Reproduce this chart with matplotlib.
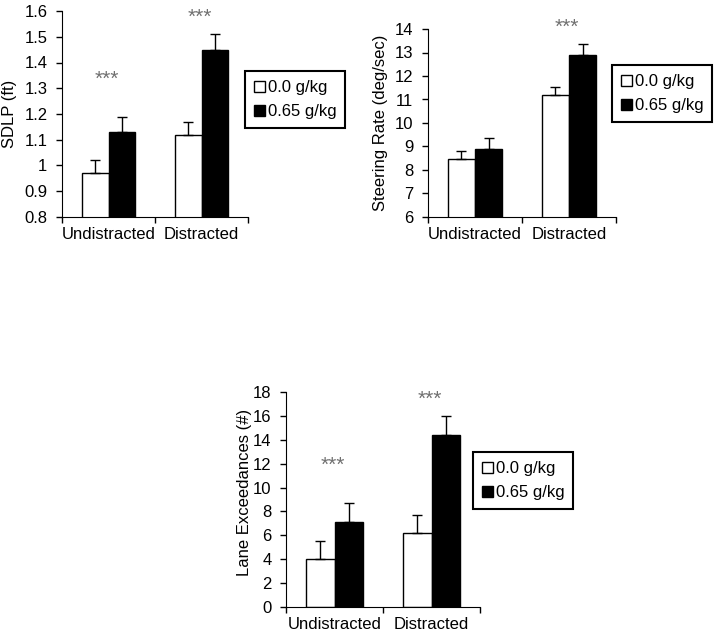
import matplotlib
matplotlib.use("Agg")
import matplotlib.pyplot as plt
import numpy as np

plt.rcParams.update({'font.family': 'Liberation Sans'})
plt.rcParams.update({'font.size': 12})

conditions = ["Undistracted", "Distracted"]
doses = ["0.0 g/kg", "0.65 g/kg"]

sdlp_placebo = [0.97, 1.12]
sdlp_placebo_err = [0.05, 0.05]
sdlp_alcohol = [1.13, 1.45]
sdlp_alcohol_err = [0.06, 0.06]
sdlp_stars = [1.335, 1.575]

steer_placebo = [8.45, 11.2]
steer_placebo_err = [0.35, 0.35]
steer_alcohol = [8.9, 12.9]
steer_alcohol_err = [0.45, 0.45]
steer_stars = [None, 14.05]

lane_placebo = [4.0, 6.2]
lane_placebo_err = [1.5, 1.5]
lane_alcohol = [7.1, 14.4]
lane_alcohol_err = [1.6, 1.6]
lane_stars = [11.9, 17.4]


def panel(fig, rect, placebo, p_err, alcohol, a_err, stars, ylim, yticks,
          yticklabels, ylabel, label_xy, leg_anchor):
    ax = fig.add_axes(rect)
    x = np.arange(len(conditions))
    w = 0.29
    ax.bar(x - w / 2, placebo, w, color='white', edgecolor='black',
           linewidth=1, label=doses[0])
    ax.bar(x + w / 2, alcohol, w, color='black', edgecolor='black',
           linewidth=1, label=doses[1])
    ax.errorbar(x - w / 2, placebo, yerr=[np.zeros(2), p_err], fmt='none',
                ecolor='black', elinewidth=1, capsize=3.5, capthick=1)
    ax.errorbar(x + w / 2, alcohol, yerr=[np.zeros(2), a_err], fmt='none',
                ecolor='black', elinewidth=1, capsize=3.5, capthick=1)
    for i, s in enumerate(stars):
        if s is not None:
            ax.text(x[i] - 0.02, s, "***", ha='center', va='center',
                    color='#707070', fontsize=15, clip_on=False)
    ax.set_xlim(-0.5, 1.5)
    ax.set_ylim(ylim)
    ax.set_yticks(yticks)
    ax.set_yticklabels(yticklabels)
    ax.set_xticks([-0.5, 0.5, 1.5])
    ax.set_xticklabels([])
    ax.set_xticks(x, minor=True)
    ax.set_xticklabels(conditions, minor=True)
    ax.tick_params(axis='x', which='minor', length=0, pad=7)
    ax.tick_params(axis='x', which='major', length=4, width=1)
    ax.tick_params(axis='y', length=4, width=1, pad=6.5)
    ax.spines['top'].set_visible(False)
    ax.spines['right'].set_visible(False)
    ax.set_ylabel(ylabel, fontsize=12)
    ax.yaxis.set_label_coords(*label_xy)
    leg = ax.legend(loc='upper left', bbox_to_anchor=leg_anchor,
                    borderaxespad=0, fancybox=False, framealpha=1,
                    fontsize=12, handlelength=0.65, handleheight=0.65,
                    handletextpad=0.15, labelspacing=0.55, borderpad=0.55)
    leg.get_frame().set_edgecolor('black')
    leg.get_frame().set_linewidth(1.5)
    return ax


fig = plt.figure(figsize=(7.14, 6.38), dpi=100)

panel(fig, [62 / 714, 1 - 217 / 638, 186 / 714, 206 / 638],
      sdlp_placebo, sdlp_placebo_err, sdlp_alcohol, sdlp_alcohol_err,
      sdlp_stars, (0.8, 1.6), np.arange(0.8, 1.61, 0.1),
      ["0.8", "0.9", "1", "1.1", "1.2", "1.3", "1.4", "1.5", "1.6"],
      "SDLP (ft)", (-0.242, 0.5), (0.984, 0.709))

panel(fig, [428 / 714, 1 - 217 / 638, 188 / 714, 188 / 638],
      steer_placebo, steer_placebo_err, steer_alcohol, steer_alcohol_err,
      steer_stars, (6, 14), np.arange(6, 15, 1),
      [str(v) for v in range(6, 15)],
      "Steering Rate (deg/sec)", (-0.213, 0.5), (0.979, 0.809))

panel(fig, [286 / 714, 1 - 607 / 638, 194 / 714, 215 / 638],
      lane_placebo, lane_placebo_err, lane_alcohol, lane_alcohol_err,
      lane_stars, (0, 18), np.arange(0, 19, 2),
      [str(v) for v in range(0, 19, 2)],
      "Lane Exceedances (#)", (-0.175, 0.535), (0.964, 0.721))

fig.savefig("out.png", dpi=100)
